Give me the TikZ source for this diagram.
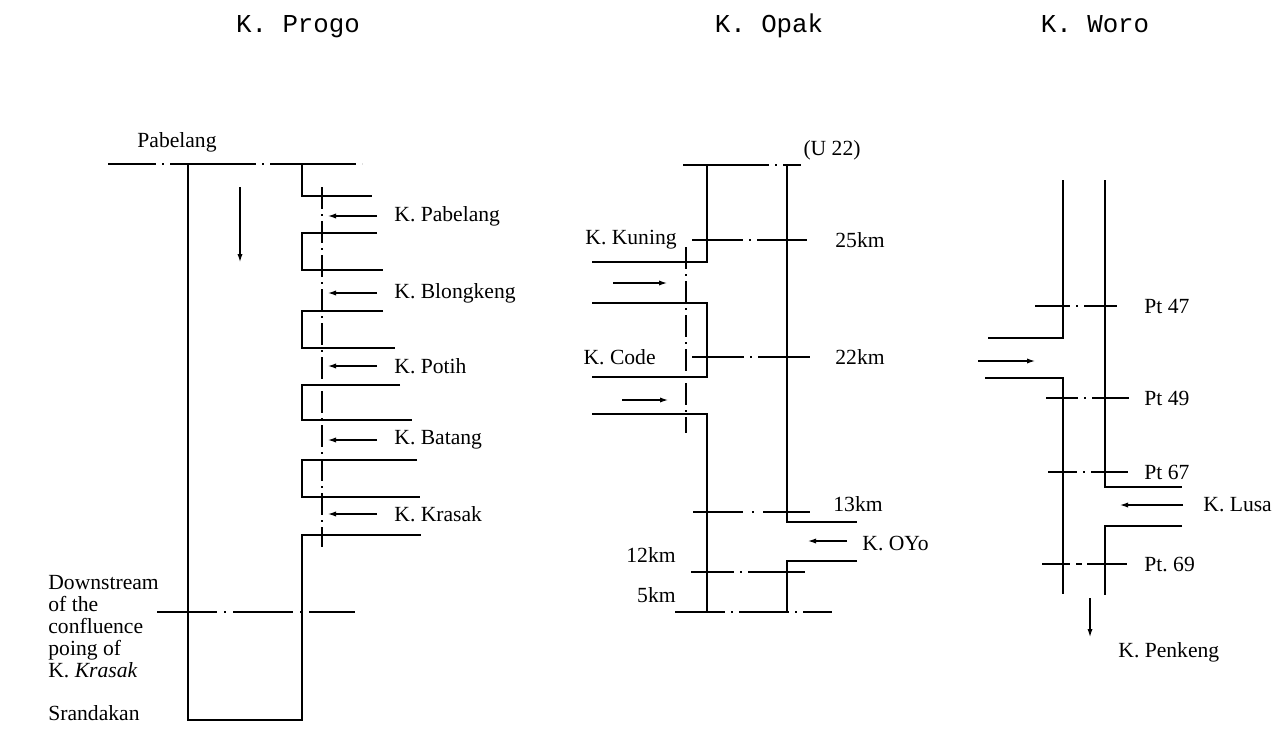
\documentclass[tikz,border=0pt]{standalone}
\usepackage{fontspec}
\setmainfont{Liberation Serif}
\setmonofont{Liberation Mono}
\usetikzlibrary{arrows.meta}
\tikzset{
  wall/.style={line width=1.3pt},
  section line/.style={line width=0.8pt,
    dash pattern=on #1 off 3pt on 1pt off 3pt on 200pt off 1pt},
  section line/.default=28pt,
  top line/.style={line width=1.3pt,
    dash pattern=on 43pt off 3pt on 1pt off 3pt, dash phase=19pt},
  centre line/.style={line width=0.8pt,
    dash pattern=on 11pt off 2.5pt on 1pt off 2.5pt},
  flow arrow/.style={line width=0.6pt,
    -{Latex[length=4pt,width=2.6pt]}},
  river title/.style={font=\fontsize{12.9}{15}\selectfont\ttfamily,
    anchor=base},
  label text/.style={font=\fontsize{10.8}{13}\selectfont, inner sep=0pt},
}

\begin{document}
\begin{tikzpicture}[x=0.5pt, y=-0.5pt]
  \useasboundingbox (0,0) rectangle (1283,733);

  % River titles
  \node[river title] (progo) at (298,33) {K. Progo};
  \node[river title] (opak) at (769,33) {K. Opak};
  \node[river title] (woro) at (1095,33) {K. Woro};

  % K. Progo
  \draw[top line] (108,164) -- (362,164);
  \node[label text, anchor=west] (pabelang) at (137,142) {Pabelang};
  \draw[wall] (188,164) -- (188,720) -- (302,720) -- (302,535) -- (421,535);
  \draw[wall] (302,164) -- (302,196) -- (372,196);
  \draw[wall] (377,233) -- (302,233) -- (302,270) -- (383,270);
  \draw[wall] (383,311) -- (302,311) -- (302,348) -- (395,348);
  \draw[wall] (400,385) -- (302,385) -- (302,420) -- (412,420);
  \draw[wall] (417,460) -- (302,460) -- (302,497) -- (420,497);
  \draw[centre line] (322,187) -- (322,547);
  \draw[flow arrow] (240,187) -- (240,262);
  \foreach \y/\name in {216/Pabelang, 293/Blongkeng, 366/Potih,
                        440/Batang, 514/Krasak} {
    \draw[flow arrow] (377,\y) -- (328,\y);
    \node[label text, anchor=west] (trib-\name) at (394,\y) {K. \name};
  }
  \draw[section line, dash pattern=on 30pt off 3.5pt on 1pt off 3.5pt]
    (157,612) -- (355,612);
  \node[label text, anchor=north west, align=left,
        font=\fontsize{10.8}{11}\selectfont] (downstream) at (48,575)
    {Downstream\\of the\\confluence\\poing of\\K. \textit{Krasak}};
  \node[label text, anchor=west] (srandakan) at (48,713) {Srandakan};

  % K. Opak
  \draw[top line, dash phase=0pt] (683,165) -- (801,165);
  \node[label text] (u22) at (832,150) {(U 22)};
  \draw[wall] (707,165) -- (707,262) -- (592,262);
  \draw[wall] (592,303) -- (707,303) -- (707,377) -- (592,377);
  \draw[wall] (592,414) -- (707,414) -- (707,612);
  \draw[wall] (787,165) -- (787,522) -- (857,522);
  \draw[wall] (857,561) -- (787,561) -- (787,612);
  \draw[section line, dash pattern=on 25pt off 3pt on 1pt off 3pt]
    (675,612) -- (832,612);
  \draw[centre line] (686,247) -- (686,433);
  \draw[section line=25.5pt] (692,240) -- (807,240);
  \draw[section line=26pt] (692,357) -- (810,357);
  \draw[section line, dash pattern=on 25pt off 4.5pt on 1pt off 4.5pt
        on 200pt off 1pt] (693,512) -- (810,512);
  \draw[section line=21.5pt] (691,572) -- (805,572);
  \draw[flow arrow] (613,283) -- (667,283);
  \draw[flow arrow] (622,400) -- (668,400);
  \draw[flow arrow] (847,541) -- (808,541);
  \node[label text, anchor=east] (kuning) at (677,240) {K. Kuning};
  \node[label text, anchor=east] (code) at (656,357) {K. Code};
  \node[label text, anchor=west] (km25) at (835,240) {25km};
  \node[label text, anchor=west] (km22) at (835,357) {22km};
  \node[label text, anchor=west] (km13) at (833,504) {13km};
  \node[label text, anchor=west] (oyo) at (862,543) {K. OYo};
  \node[label text, anchor=east] (km12) at (676,555) {12km};
  \node[label text, anchor=east] (km5) at (676,595) {5km};

  % K. Woro
  \draw[wall] (1063,180) -- (1063,338) -- (988,338);
  \draw[wall] (985,378) -- (1063,378) -- (1063,594);
  \draw[wall] (1105,180) -- (1105,487) -- (1182,487);
  \draw[wall] (1182,526) -- (1105,526) -- (1105,595);
  \draw[section line=17.5pt] (1035,306) -- (1117,306);
  \draw[section line=16pt] (1046,398) -- (1129,398);
  \draw[section line=14.5pt] (1048,472) -- (1128,472);
  \draw[section line, dash pattern=on 14pt off 3pt on 3pt off 2.5pt
        on 200pt off 1pt] (1042,564) -- (1127,564);
  \draw[flow arrow] (978,361) -- (1035,361);
  \draw[flow arrow] (1183,505) -- (1120,505);
  \draw[flow arrow] (1090,598) -- (1090,637);
  \node[label text, anchor=west] (pt47) at (1144,306) {Pt 47};
  \node[label text, anchor=west] (pt49) at (1144,398) {Pt 49};
  \node[label text, anchor=west] (pt67) at (1144,472) {Pt 67};
  \node[label text, anchor=west] (pt69) at (1144,564) {Pt.\ 69};
  \node[label text, anchor=west] (lusa) at (1203,505) {K. Lusa};
  \node[label text, anchor=west] (penkeng) at (1118,652) {K. Penkeng};

\end{tikzpicture}
\end{document}
